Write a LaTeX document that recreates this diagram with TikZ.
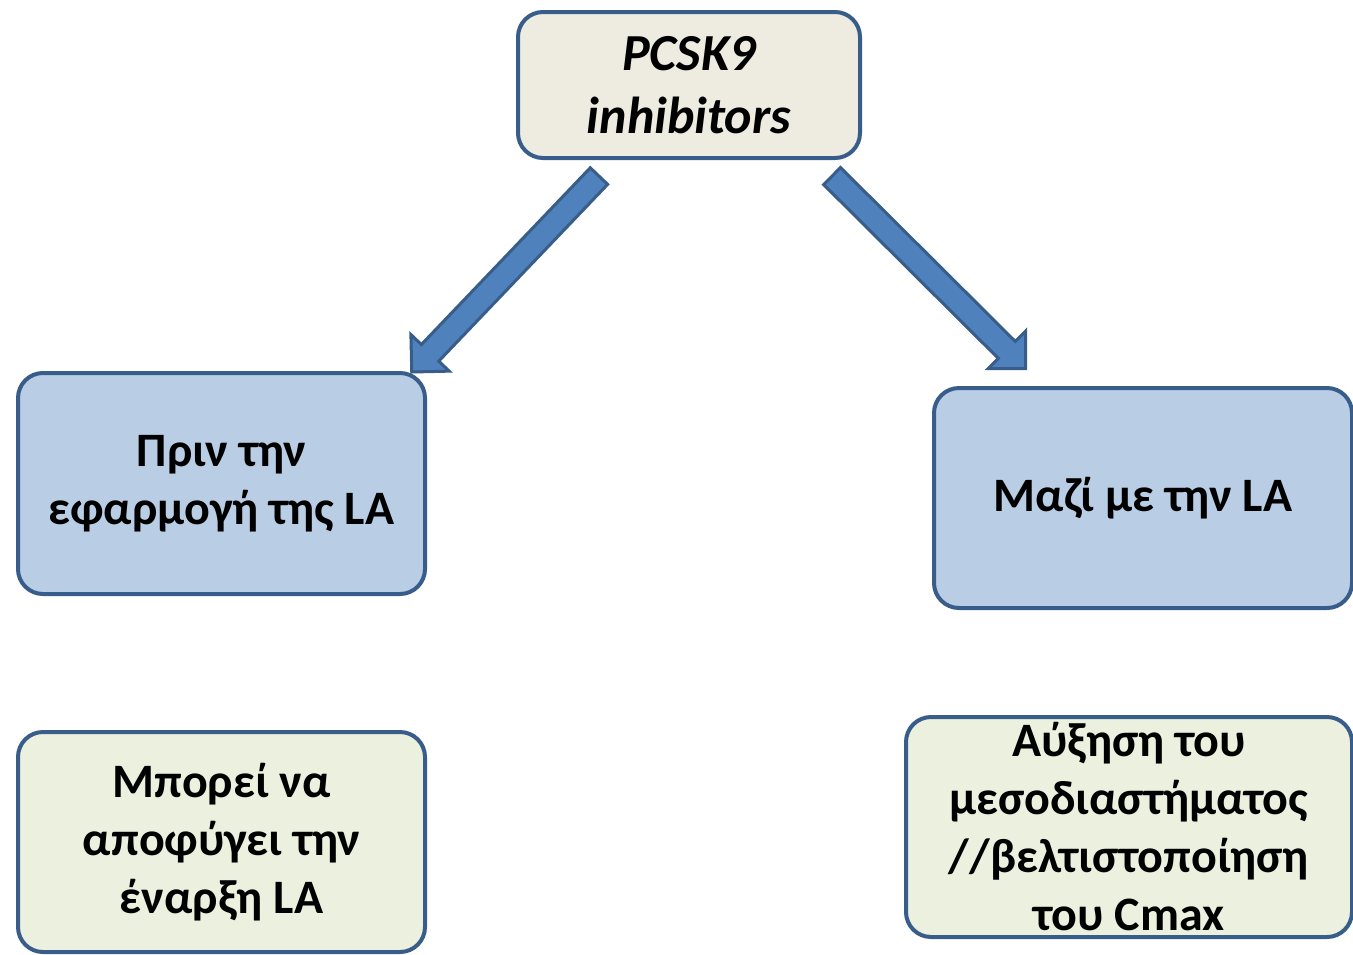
\documentclass[tikz,border=0pt]{standalone}
\usepackage{fontspec}
\setmainfont{Carlito}
\usetikzlibrary{shapes,arrows,positioning}
\definecolor{boxline}{RGB}{56,93,138}
\definecolor{drugfill}{RGB}{238,236,225}
\definecolor{whenfill}{RGB}{185,205,229}
\definecolor{effectfill}{RGB}{235,241,222}
\definecolor{arrowfill}{RGB}{79,129,189}
\tikzstyle{box} = [rectangle, rounded corners=25pt, draw=boxline, line width=4pt, text=black, align=center, font=\bfseries\fontsize{48}{58}\selectfont]
\tikzstyle{drug} = [box, fill=drugfill, minimum width=342pt, minimum height=146pt, font=\bfseries\itshape\fontsize{52}{63}\selectfont]
\tikzstyle{when} = [box, fill=whenfill, minimum width=407pt, minimum height=221pt]
\tikzstyle{effect} = [box, fill=effectfill, minimum width=407pt, minimum height=220pt]
\tikzstyle{bigarrow} = [single arrow, draw=boxline, line width=3pt, fill=arrowfill, inner sep=10.5pt, single arrow head extend=14.5pt, anchor=tail]

\begin{document}
\begin{tikzpicture}[x=1pt, y=-1pt]
\useasboundingbox (0,0) rectangle (1353,954);

% drug ===============================
\node[drug] (pcsk) at (689,85) {PCSK9\\inhibitors};

% when to give it
\node[when, below left=211pt and 89pt of pcsk] (before) {Πριν την\\εφαρμογή της LA};
\node[when, minimum width=418pt, minimum height=220pt, below right=226pt and 70pt of pcsk] (with) {Μαζί με την LA};

% effects
\node[effect, below=134pt of before] (avoid) {Μπορεί να\\αποφύγει την\\έναρξη LA};
\node[effect, minimum width=446pt, below=105pt of with.south east, anchor=north east] (widen) {Αύξηση του\\μεσοδιαστήματος\\//βελτιστοποίηση\\του Cmax};

% arrows
\coordinate (ltail) at (600,175);
\coordinate (rtail) at (831,175);
\node[bigarrow, minimum height=271pt, rotate=226.3] (larrow) at (ltail) {};
\node[bigarrow, minimum height=273pt, rotate=-44.85] (rarrow) at (rtail) {};

\end{tikzpicture}
\end{document}
